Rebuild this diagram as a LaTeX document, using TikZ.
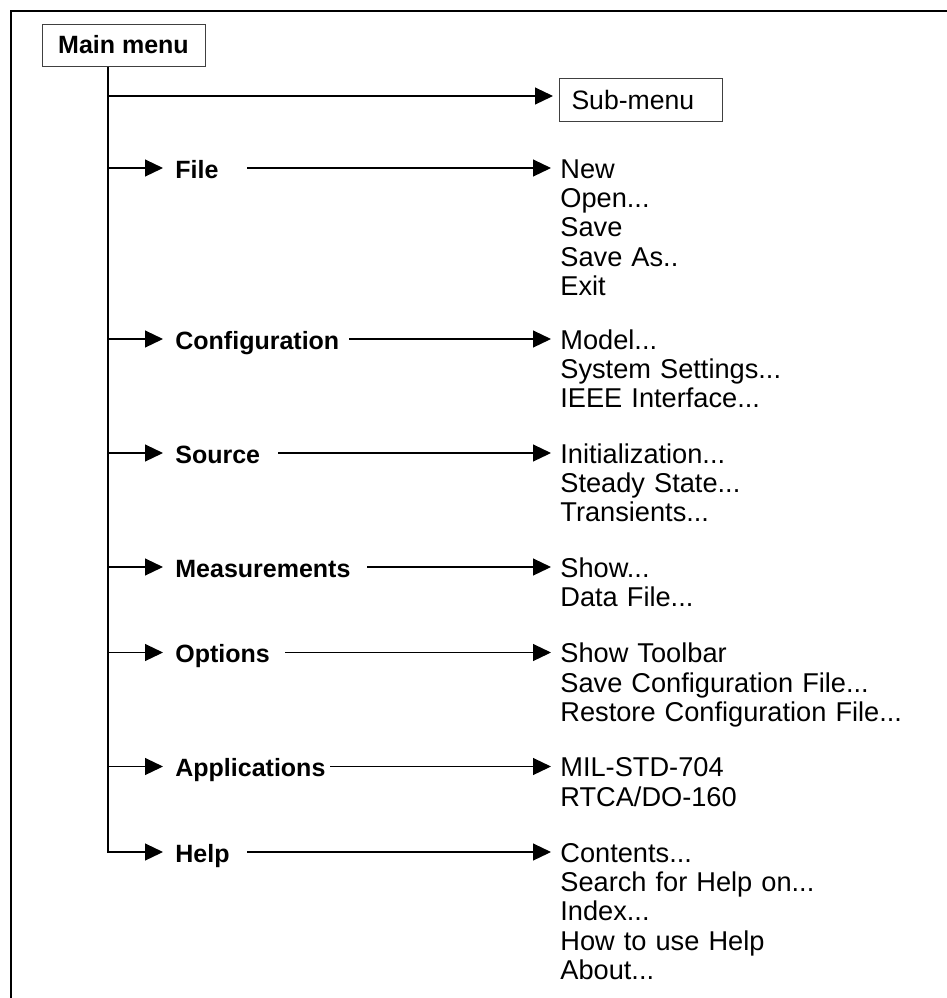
\documentclass[tikz,border=0pt]{standalone}
\usepackage{fontspec}
\setmainfont{Liberation Sans}
\usepackage{tikz}
\usetikzlibrary{arrows.meta,positioning}
\tikzstyle{frame} = [draw, line width=1.15pt]
\tikzstyle{menubox} = [draw=black!75, line width=0.5pt, font=\bfseries\fontsize{12.5}{14}\selectfont, minimum width=81.5pt, minimum height=21pt, inner sep=0pt]
\tikzstyle{subbox} = [draw=black!75, line width=0.5pt, font=\fontsize{13.3}{15}\selectfont, text width=69.5pt, align=left, inner xsep=6pt, inner ysep=0pt, minimum height=21.5pt]
\tikzstyle{category} = [anchor=west, font=\bfseries\fontsize{12.5}{14}\selectfont, inner xsep=6pt, inner ysep=0pt, text height=12.25pt, text depth=2pt]
\tikzstyle{item} = [anchor=west, font=\fontsize{13.6}{15}\selectfont, text width=180pt, align=left, inner xsep=4.5pt, inner ysep=0pt, text height=12.25pt, text depth=2pt]
\tikzstyle{tedge}  = [draw, line width=0.6pt, -{Triangle[length=9pt,width=8.5pt]}]
\begin{document}
\begin{tikzpicture}[x=0.5pt, y=-0.5pt]
\useasboundingbox (0,0) rectangle (947,998);

% frame
\draw[frame] (11,998) -- (11,11) -- (947,11);

% menus ==================================
\node[menubox] (mainmenu) at (123.5,45) {Main menu};
\node[subbox, anchor=west] (submenu) at (559,99.5) {Sub-menu};

% trunk points
\coordinate (t-sub) at (108,96);
\coordinate (t-file) at (108,168);
\coordinate (t-config) at (108,339);
\coordinate (t-source) at (108,453);
\coordinate (t-meas) at (108,567);
\coordinate (t-options) at (108,652.5);
\coordinate (t-apps) at (108,766.5);
\coordinate (t-help) at (108,852);

% categories
\node[category] (file) at (163,168) {File};
\node[category] (config) at (163,339) {Configuration};
\node[category] (source) at (163,453) {Source};
\node[category] (meas) at (163,567) {Measurements};
\node[category] (options) at (163,652.5) {Options};
\node[category] (apps) at (163,766.5) {Applications};
\node[category] (help) at (163,852) {Help};

% line starts
\coordinate (o-file) at (247,168);
\coordinate (o-config) at (349,339);
\coordinate (o-source) at (278,453);
\coordinate (o-meas) at (367,567);
\coordinate (o-options) at (285,652.5);
\coordinate (o-apps) at (330,766.5);
\coordinate (o-help) at (247,852);

% file
\node[item] (new) at (551,168) {New};
\node[item, below=0pt of new] (open) {Open...};
\node[item, below=0pt of open] (save) {Save};
\node[item, below=0pt of save] (saveas) {Save As..};
\node[item, below=0pt of saveas] (exit) {Exit};

% configuration
\node[item] (model) at (551,339) {Model...};
\node[item, below=0pt of model] (system) {System Settings...};
\node[item, below=0pt of system] (ieee) {IEEE Interface...};

% source
\node[item] (init) at (551,453) {Initialization...};
\node[item, below=0pt of init] (steady) {Steady State...};
\node[item, below=0pt of steady] (trans) {Transients...};

% measurements
\node[item] (show) at (551,567) {Show...};
\node[item, below=0pt of show] (datafile) {Data File...};

% options
\node[item] (toolbar) at (551,652.5) {Show Toolbar};
\node[item, below=0pt of toolbar] (saveconf) {Save Configuration File...};
\node[item, below=0pt of saveconf] (restconf) {Restore Configuration File...};

% applications
\node[item] (mil) at (551,766.5) {MIL-STD-704};
\node[item, below=0pt of mil] (rtca) {RTCA/DO-160};

% help
\node[item] (contents) at (551,852) {Contents...};
\node[item, below=0pt of contents] (search) {Search for Help on...};
\node[item, below=0pt of search] (index) {Index...};
\node[item, below=0pt of index] (howto) {How to use Help};
\node[item, below=0pt of howto] (about) {About...};

%edges trunk
\path[tedge] (mainmenu.south -| t-help) -- (t-help) -- (help);
\path[tedge, shorten >=3pt] (t-sub) -- (t-sub -| submenu.west);
\path[tedge] (t-file) -- (file);
\path[tedge] (t-config) -- (config);
\path[tedge] (t-source) -- (source);
\path[tedge] (t-meas) -- (meas);
\path[tedge] (t-options) -- (options);
\path[tedge] (t-apps) -- (apps);

%edges sub-menus
\path[tedge] (o-file) -- (new);
\path[tedge] (o-config) -- (model);
\path[tedge] (o-source) -- (init);
\path[tedge] (o-meas) -- (show);
\path[tedge] (o-options) -- (toolbar);
\path[tedge] (o-apps) -- (mil);
\path[tedge] (o-help) -- (contents);

\end{tikzpicture}
\end{document}
